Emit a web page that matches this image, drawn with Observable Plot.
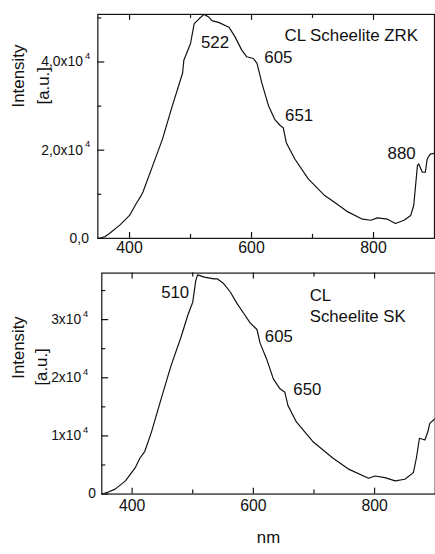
<!DOCTYPE html>
<html><head><meta charset="utf-8">
<script src="https://cdn.jsdelivr.net/npm/d3@7"></script>
<script src="https://cdn.jsdelivr.net/npm/@observablehq/plot@0.6"></script>
<style>
html,body{margin:0;padding:0;background:#fff;overflow:hidden;width:435px;height:554px}
#chart{position:relative;width:435px;height:554px;overflow:hidden;background:#fff}
#chart svg{position:absolute;left:0;overflow:visible}
</style></head><body><div id="chart"></div><script>
// ---- Top panel: CL Scheelite ZRK ----
const zrkNm = [350,360,367,384,400,411,419,422,438,454,470,487,489,500,506,514,522,530,535,546,563,573,584,592,603,609,617,628,638,647,652,657,671,693,720,736,758,782,796,806,823,836,850,861,866,872,874,880,885,888,893,900];
const zrkVal = [0,400,1100,3000,5200,7900,9700,10500,16500,22500,30000,37500,40400,44200,48700,49800,50800,50200,49400,49000,47900,45700,42700,41200,40800,39700,35200,30000,27000,25600,25100,21700,18000,13500,9700,8200,6000,4350,4100,4650,4350,3370,4100,5200,7500,16500,16900,15000,15000,18000,19100,19300];
const zrkYMajor = [0,20000,40000];
const zrkYMinor = [10000,30000,50000];
const zrkYLabels = ["0,0","2,0x10","4,0x10"];
const zrkYExp = ["","4","4"];
const zrkAnnoText = ["522","605","651","880","CL Scheelite ZRK"];
const zrkAnnoNm = [517,621,655,823,654];
const zrkAnnoVal = [44500,40900,27800,19300,46100];

// ---- Bottom panel: CL Scheelite SK ----
const skNm = [350,360,372,389,405,413,421,432,448,464,481,492,500,505,508,519,535,541,551,562,573,584,595,606,611,622,633,644,652,657,671,698,731,758,790,801,817,834,850,864,869,874,883,888,891,900];
const skVal = [0,300,850,2270,4500,6200,7350,10700,16400,22000,27100,30800,33000,36700,37700,37300,37000,37000,36200,34750,32800,31100,29400,28300,26000,23200,19800,18100,17500,15250,12400,9050,6200,4240,2710,3100,2830,2270,2540,3680,6200,9600,9300,10750,12150,13000];
const skYMajor = [0,10000,20000,30000];
const skYMinor = [5000,15000,25000,35000];
const skYLabels = ["0","1x10","2x10","3x10"];
const skYExp = ["","4","4","4"];
const skAnnoText = ["510","605","650","CL","Scheelite SK"];
const skAnnoNm = [448,619,666,693,693];
const skAnnoVal = [34700,27100,17900,34200,30500];

// ---- shared x axis ----
const xMajor = [400,600,800];
const xMinor = [500,700];
const xLabels = ["400","600","800"];
const yTitle1 = "Intensity";
const yTitle2 = "[a.u.]";
const xTitle = "nm";

const FONT = "'Liberation Sans', Arial, Helvetica, sans-serif";
const INK = "#111";

function panel(cfg) {
  const data = cfg.nm.map((n, i) => ({nm: n, v: cfg.val[i]}));
  const annos = cfg.annoText.map((t, i) => ({t, nm: cfg.annoNm[i], v: cfg.annoVal[i]}));
  const innerW = cfg.width - cfg.ml - cfg.mr;
  const innerH = cfg.height - cfg.mt - cfg.mb;
  const id = d => d;
  const marks = [
    Plot.line(data, {x: "nm", y: "v", stroke: INK, strokeWidth: 1.2, clip: true}),
    Plot.frame({stroke: INK, strokeWidth: 1.2}),
    // x ticks (inward), bottom and top
    Plot.tickX(xMajor, {x: id, insetTop: innerH - 6, stroke: INK, strokeWidth: 1.2}),
    Plot.tickX(xMinor, {x: id, insetTop: innerH - 4, stroke: INK, strokeWidth: 1.2}),
    Plot.tickX(xMajor, {x: id, insetBottom: innerH - 6, stroke: INK, strokeWidth: 1.2}),
    Plot.tickX(xMinor, {x: id, insetBottom: innerH - 4, stroke: INK, strokeWidth: 1.2}),
    // y ticks (inward), left
    Plot.tickY(cfg.yMajor, {y: id, insetRight: innerW - 7, stroke: INK, strokeWidth: 1.2}),
    Plot.tickY(cfg.yMinor, {y: id, insetRight: innerW - 4, stroke: INK, strokeWidth: 1.2}),
    // x tick labels
    Plot.text(xMajor, {x: id, frameAnchor: "bottom", dy: cfg.xLabelDy, text: (d, i) => xLabels[i], fontSize: 16, fill: INK}),
    // y tick labels
    Plot.text(cfg.yMajor, {y: id, frameAnchor: "left", dx: cfg.zeroDx, textAnchor: "end", filter: (d, i) => cfg.yExp[i] === "", text: (d, i) => cfg.yLabels[i], fontSize: 14, fill: INK}),
    Plot.text(cfg.yMajor, {y: id, frameAnchor: "left", dx: cfg.baseDx, textAnchor: "end", filter: (d, i) => cfg.yExp[i] !== "", text: (d, i) => cfg.yLabels[i], fontSize: 14, fill: INK}),
    Plot.text(cfg.yMajor, {y: id, frameAnchor: "left", dx: cfg.baseDx + 2, dy: -6, textAnchor: "start", filter: (d, i) => cfg.yExp[i] !== "", text: (d, i) => cfg.yExp[i], fontSize: 9.5, fill: INK}),
    // y titles
    Plot.text([yTitle1], {frameAnchor: "left", rotate: -90, dx: cfg.t1dx, dy: cfg.t1dy, text: id, fontSize: 17, fill: INK}),
    Plot.text([yTitle2], {frameAnchor: "left", rotate: -90, dx: cfg.t2dx, dy: cfg.t2dy, text: id, fontSize: 17, fill: INK}),
    // annotations
    Plot.text(annos, {x: "nm", y: "v", text: "t", textAnchor: "start", fontSize: 17, fill: INK})
  ];
  if (cfg.xTitle) {
    marks.push(Plot.text([cfg.xTitle], {frameAnchor: "bottom", dy: cfg.xTitleDy, text: id, fontSize: 17, fill: INK}));
  }
  const svg = Plot.plot({
    width: cfg.width, height: cfg.height,
    marginTop: cfg.mt, marginBottom: cfg.mb, marginLeft: cfg.ml, marginRight: cfg.mr,
    x: {domain: cfg.xDomain, axis: null},
    y: {domain: cfg.yDomain, axis: null},
    style: {fontFamily: FONT, background: "transparent", color: INK},
    marks
  });
  svg.style.top = cfg.top + "px";
  return svg;
}

const chart = document.getElementById("chart");
chart.appendChild(panel({
  nm: zrkNm, val: zrkVal, yMajor: zrkYMajor, yMinor: zrkYMinor, yLabels: zrkYLabels, yExp: zrkYExp,
  annoText: zrkAnnoText, annoNm: zrkAnnoNm, annoVal: zrkAnnoVal,
  width: 438, height: 266, mt: 14, mb: 26.5, ml: 98, mr: 1, top: 0,
  xDomain: [348, 900], yDomain: [0, 50800],
  xLabelDy: 15, zeroDx: -9, baseDx: -15,
  t1dx: -80, t1dy: -19, t2dx: -55, t2dy: -22
}));
chart.appendChild(panel({
  nm: skNm, val: skVal, yMajor: skYMajor, yMinor: skYMinor, yLabels: skYLabels, yExp: skYExp,
  annoText: skAnnoText, annoNm: skAnnoNm, annoVal: skAnnoVal,
  width: 441, height: 288, mt: 6.7, mb: 57.3, ml: 102.7, mr: 0.3, top: 266,
  xDomain: [350, 900], yDomain: [0, 38000],
  xLabelDy: 17, zeroDx: -6, baseDx: -21,
  t1dx: -84, t1dy: -5, t2dx: -61, t2dy: 2,
  xTitle: xTitle, xTitleDy: 50
}));
</script></body></html>
